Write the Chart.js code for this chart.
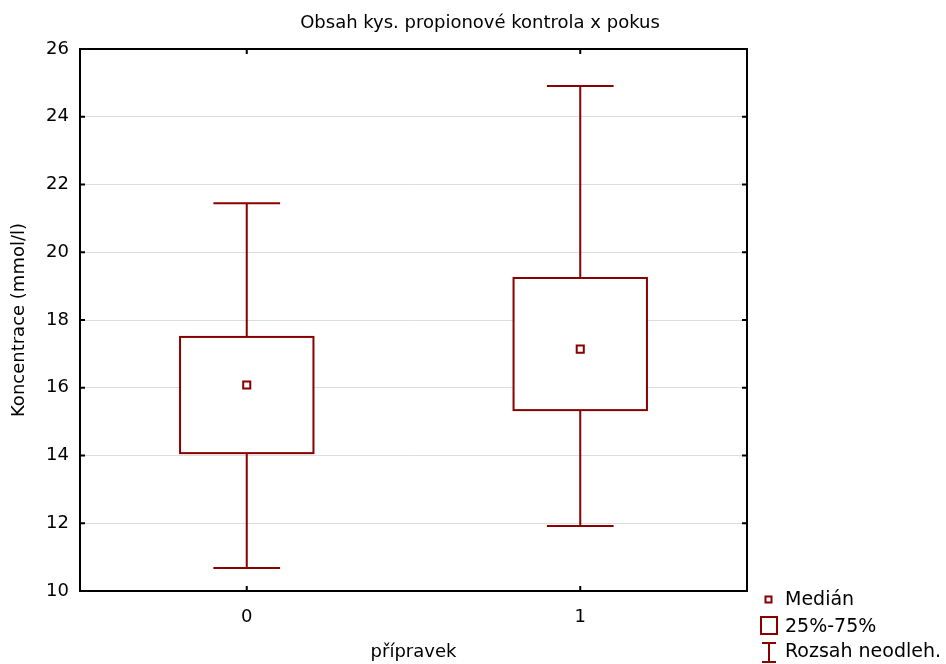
<!DOCTYPE html>
<html>
<head>
<meta charset="utf-8">
<script src="https://cdn.jsdelivr.net/npm/chart.js@4"></script>
<style>
  html, body { margin: 0; padding: 0; background: #fff; }
  #wrap { width: 946px; height: 664px; }
</style>
</head>
<body>
<div id="wrap"><canvas id="boxChart" width="946" height="664"></canvas></div>
<script>
// values
const categories = [0, 1];
const categoryLabels = ['0', '1'];
const medians = [16.08, 17.14];
const lowerQuartiles = [14.07, 15.34];
const upperQuartiles = [17.5, 19.24];
const minimums = [10.68, 11.92];
const maximums = [21.45, 24.91];
const yTicks = [10, 12, 14, 16, 18, 20, 22, 24, 26];
const legendLabels = ['Medián', '25%-75%', 'Rozsah neodleh.'];
const chartTitle = 'Obsah kys. propionové kontrola x pokus';

const RED = '#880000';
const FONT = '"DejaVu Sans", "Liberation Sans", sans-serif';

// boxes, whiskers, frame, inner ticks, title and legend
const boxPlugin = {
    id: 'boxPlugin',
    beforeDatasetsDraw(chart) {
        const ctx = chart.ctx;
        const xs = chart.scales.x;
        const ys = chart.scales.y;
        ctx.save();
        ctx.strokeStyle = RED;
        ctx.lineWidth = 2;
        categories.forEach((c, i) => {
            const xc = xs.getPixelForValue(c);
            const xl = xs.getPixelForValue(c - 0.2);
            const xr = xs.getPixelForValue(c + 0.2);
            const cl = xs.getPixelForValue(c - 0.1);
            const cr = xs.getPixelForValue(c + 0.1);
            const yMin = ys.getPixelForValue(minimums[i]);
            const yMax = ys.getPixelForValue(maximums[i]);
            const yQ1 = ys.getPixelForValue(lowerQuartiles[i]);
            const yQ3 = ys.getPixelForValue(upperQuartiles[i]);
            ctx.beginPath();
            ctx.moveTo(xc, yMax); ctx.lineTo(xc, yQ3);
            ctx.moveTo(xc, yQ1); ctx.lineTo(xc, yMin);
            ctx.moveTo(cl, yMax); ctx.lineTo(cr, yMax);
            ctx.moveTo(cl, yMin); ctx.lineTo(cr, yMin);
            ctx.stroke();
            ctx.fillStyle = '#fff';
            ctx.fillRect(xl, yQ3, xr - xl, yQ1 - yQ3);
            ctx.strokeRect(xl, yQ3, xr - xl, yQ1 - yQ3);
        });
        ctx.restore();
    },
    afterDraw(chart) {
        const ctx = chart.ctx;
        const a = chart.chartArea;
        const xs = chart.scales.x;
        const ys = chart.scales.y;
        ctx.save();
        // frame
        ctx.strokeStyle = '#000';
        ctx.lineWidth = 2;
        ctx.strokeRect(a.left, a.top, a.right - a.left, a.bottom - a.top);
        // inner ticks
        ctx.beginPath();
        yTicks.forEach(v => {
            const y = ys.getPixelForValue(v);
            ctx.moveTo(a.left, y); ctx.lineTo(a.left + 5, y);
            ctx.moveTo(a.right, y); ctx.lineTo(a.right - 5, y);
        });
        categories.forEach(c => {
            const x = xs.getPixelForValue(c);
            ctx.moveTo(x, a.bottom); ctx.lineTo(x, a.bottom - 5);
            ctx.moveTo(x, a.top); ctx.lineTo(x, a.top + 5);
        });
        ctx.stroke();

        // title
        ctx.fillStyle = '#000';
        ctx.font = '18px ' + FONT;
        ctx.textAlign = 'center';
        ctx.textBaseline = 'middle';
        ctx.fillText(chartTitle, 480, 23);

        // legend
        ctx.textAlign = 'left';
        ctx.font = '19px ' + FONT;
        ctx.strokeStyle = RED;
        ctx.lineWidth = 2;
        ctx.strokeRect(765.5, 596.5, 6, 6);
        ctx.strokeRect(761, 617, 16, 17);
        ctx.beginPath();
        ctx.moveTo(762, 643); ctx.lineTo(776, 643);
        ctx.moveTo(769, 643); ctx.lineTo(769, 662);
        ctx.moveTo(762, 662); ctx.lineTo(776, 662);
        ctx.stroke();
        ctx.fillText(legendLabels[0], 785, 600);
        ctx.fillText(legendLabels[1], 785, 627);
        ctx.fillText(legendLabels[2], 785, 652);
        ctx.restore();
    }
};

const ctx = document.getElementById('boxChart').getContext('2d');
const chart = new Chart(ctx, {
    type: 'scatter',
    data: {
        datasets: [{
            label: 'Medián',
            data: categories.map((c, i) => ({ x: c, y: medians[i] })),
            pointStyle: 'rect',
            pointRadius: 5,
            pointHoverRadius: 5,
            borderColor: RED,
            backgroundColor: '#fff',
            borderWidth: 2
        }]
    },
    options: {
        responsive: false,
        animation: false,
        layout: { padding: { left: 0, right: 199, top: 49, bottom: 0 } },
        plugins: {
            legend: { display: false },
            title: { display: false },
            tooltip: { enabled: false }
        },
        scales: {
            x: {
                type: 'linear',
                min: -0.5,
                max: 1.5,
                afterBuildTicks: scale => {
                    scale.ticks = categories.map(v => ({ value: v }));
                },
                afterFit: scale => { scale.height = 73; },
                ticks: {
                    padding: 16,
                    color: '#000',
                    font: { family: FONT, size: 18 },
                    callback: (v) => categoryLabels[categories.indexOf(v)]
                },
                grid: { display: false, drawTicks: false },
                border: { display: false },
                title: {
                    display: true,
                    text: 'přípravek',
                    color: '#000',
                    font: { family: FONT, size: 18 },
                    padding: { top: 0, bottom: 1 }
                }
            },
            y: {
                min: 10,
                max: 26,
                afterBuildTicks: scale => {
                    scale.ticks = yTicks.map(v => ({ value: v }));
                },
                afterFit: scale => { scale.width = 80; },
                ticks: {
                    padding: 11,
                    color: '#000',
                    font: { family: FONT, size: 18 }
                },
                grid: {
                    drawTicks: false,
                    color: ctx => (ctx.tick && (ctx.tick.value === 10 || ctx.tick.value === 26)) ? 'rgba(0,0,0,0)' : '#dddddd',
                    lineWidth: 1
                },
                border: { display: false },
                title: {
                    display: true,
                    text: 'Koncentrace (mmol/l)',
                    color: '#000',
                    font: { family: FONT, size: 18 },
                    padding: { top: 9, bottom: 0 }
                }
            }
        }
    },
    plugins: [boxPlugin]
});
</script>
</body>
</html>
